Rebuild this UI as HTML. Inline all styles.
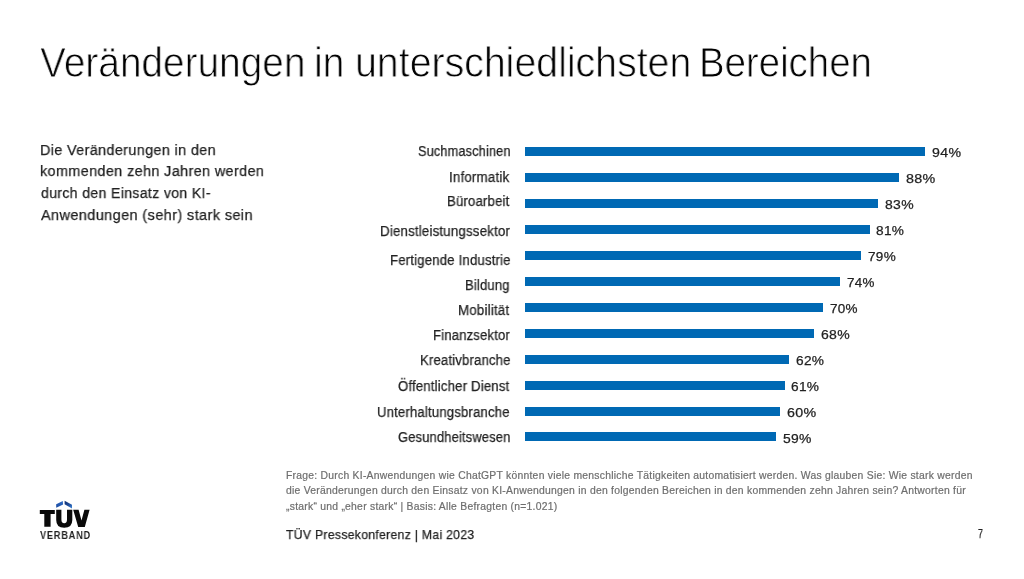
<!DOCTYPE html>
<html><head><meta charset="utf-8"><style>
html,body{margin:0;padding:0;background:#fff;}
body{width:1024px;height:579px;position:relative;overflow:hidden;font-family:"Liberation Sans",sans-serif;}
.t{position:absolute;white-space:pre;transform-origin:0 0;will-change:transform;}
.ti{-webkit-text-stroke:0.9px #fff;}
.b{-webkit-text-stroke:0.25px #222;}
.fb{-webkit-text-stroke:0.2px #6e6e6e;}
.bar{position:absolute;left:525.0px;height:9px;background:#0069b4;}
</style></head><body>
<div class="t ti" style="left:40.08px;top:41.50px;font-size:42px;line-height:42px;font-weight:400;letter-spacing:0px;color:#000;transform:scaleX(0.9240)">Veränderungen</div><div class="t ti" style="left:314.30px;top:41.50px;font-size:42px;line-height:42px;font-weight:400;letter-spacing:0px;color:#000;transform:scaleX(0.9333)">in</div><div class="t ti" style="left:354.59px;top:41.50px;font-size:42px;line-height:42px;font-weight:400;letter-spacing:0px;color:#000;transform:scaleX(0.9353)">unterschiedlichsten</div><div class="t ti" style="left:698.94px;top:41.50px;font-size:42px;line-height:42px;font-weight:400;letter-spacing:0px;color:#000;transform:scaleX(0.9143)">Bereichen</div><div class="t b" style="left:39.96px;top:141.50px;font-size:15.3px;line-height:15.3px;font-weight:400;letter-spacing:0.4px;color:#222;transform:scaleX(0.9392)">Die Veränderungen in den</div><div class="t b" style="left:39.56px;top:163.10px;font-size:15.3px;line-height:15.3px;font-weight:400;letter-spacing:0.4px;color:#222;transform:scaleX(0.9415)">kommenden zehn Jahren werden</div><div class="t b" style="left:40.50px;top:184.90px;font-size:15.3px;line-height:15.3px;font-weight:400;letter-spacing:0.4px;color:#222;transform:scaleX(0.9173)">durch den Einsatz von KI-</div><div class="t b" style="left:40.50px;top:206.60px;font-size:15.3px;line-height:15.3px;font-weight:400;letter-spacing:0.4px;color:#222;transform:scaleX(0.9489)">Anwendungen (sehr) stark sein</div><div class="t b" style="left:417.80px;top:145.20px;font-size:13.8px;line-height:13.8px;font-weight:400;letter-spacing:0.2px;color:#222;transform:scaleX(0.9190)">Suchmaschinen</div><div class="t b" style="left:448.94px;top:170.50px;font-size:13.8px;line-height:13.8px;font-weight:400;letter-spacing:0.2px;color:#222;transform:scaleX(0.9645)">Informatik</div><div class="t b" style="left:446.85px;top:195.00px;font-size:13.8px;line-height:13.8px;font-weight:400;letter-spacing:0.2px;color:#222;transform:scaleX(0.9523)">Büroarbeit</div><div class="t b" style="left:379.94px;top:224.60px;font-size:13.8px;line-height:13.8px;font-weight:400;letter-spacing:0.2px;color:#222;transform:scaleX(0.9612)">Dienstleistungssektor</div><div class="t b" style="left:389.65px;top:253.70px;font-size:13.8px;line-height:13.8px;font-weight:400;letter-spacing:0.2px;color:#222;transform:scaleX(0.9528)">Fertigende Industrie</div><div class="t b" style="left:465.46px;top:278.70px;font-size:13.8px;line-height:13.8px;font-weight:400;letter-spacing:0.2px;color:#222;transform:scaleX(0.9413)">Bildung</div><div class="t b" style="left:457.64px;top:304.30px;font-size:13.8px;line-height:13.8px;font-weight:400;letter-spacing:0.2px;color:#222;transform:scaleX(0.9642)">Mobilität</div><div class="t b" style="left:433.05px;top:329.30px;font-size:13.8px;line-height:13.8px;font-weight:400;letter-spacing:0.2px;color:#222;transform:scaleX(0.9462)">Finanzsektor</div><div class="t b" style="left:419.65px;top:354.30px;font-size:13.8px;line-height:13.8px;font-weight:400;letter-spacing:0.2px;color:#222;transform:scaleX(0.9479)">Kreativbranche</div><div class="t b" style="left:398.40px;top:380.10px;font-size:13.8px;line-height:13.8px;font-weight:400;letter-spacing:0.2px;color:#222;transform:scaleX(0.9513)">Öffentlicher Dienst</div><div class="t b" style="left:376.85px;top:405.90px;font-size:13.8px;line-height:13.8px;font-weight:400;letter-spacing:0.2px;color:#222;transform:scaleX(0.9489)">Unterhaltungsbranche</div><div class="t b" style="left:397.70px;top:430.90px;font-size:13.8px;line-height:13.8px;font-weight:400;letter-spacing:0.2px;color:#222;transform:scaleX(0.9333)">Gesundheitswesen</div><div class="t b" style="left:931.70px;top:146.10px;font-size:13.2px;line-height:13.2px;font-weight:400;letter-spacing:0.3px;color:#222;transform:scaleX(1.0741)">94%</div><div class="t b" style="left:906.00px;top:172.05px;font-size:13.2px;line-height:13.2px;font-weight:400;letter-spacing:0.3px;color:#222;transform:scaleX(1.0852)">88%</div><div class="t b" style="left:884.60px;top:198.00px;font-size:13.2px;line-height:13.2px;font-weight:400;letter-spacing:0.3px;color:#222;transform:scaleX(1.0593)">83%</div><div class="t b" style="left:876.30px;top:223.95px;font-size:13.2px;line-height:13.2px;font-weight:400;letter-spacing:0.3px;color:#222;transform:scaleX(1.0333)">81%</div><div class="t b" style="left:868.00px;top:249.90px;font-size:13.2px;line-height:13.2px;font-weight:400;letter-spacing:0.3px;color:#222;transform:scaleX(1.0259)">79%</div><div class="t b" style="left:846.50px;top:275.85px;font-size:13.2px;line-height:13.2px;font-weight:400;letter-spacing:0.3px;color:#222;transform:scaleX(1.0148)">74%</div><div class="t b" style="left:830.00px;top:301.80px;font-size:13.2px;line-height:13.2px;font-weight:400;letter-spacing:0.3px;color:#222;transform:scaleX(1.0222)">70%</div><div class="t b" style="left:821.10px;top:327.75px;font-size:13.2px;line-height:13.2px;font-weight:400;letter-spacing:0.3px;color:#222;transform:scaleX(1.0630)">68%</div><div class="t b" style="left:795.60px;top:353.70px;font-size:13.2px;line-height:13.2px;font-weight:400;letter-spacing:0.3px;color:#222;transform:scaleX(1.0370)">62%</div><div class="t b" style="left:791.00px;top:379.65px;font-size:13.2px;line-height:13.2px;font-weight:400;letter-spacing:0.3px;color:#222;transform:scaleX(1.0370)">61%</div><div class="t b" style="left:786.80px;top:405.60px;font-size:13.2px;line-height:13.2px;font-weight:400;letter-spacing:0.3px;color:#222;transform:scaleX(1.0815)">60%</div><div class="t b" style="left:782.80px;top:431.55px;font-size:13.2px;line-height:13.2px;font-weight:400;letter-spacing:0.3px;color:#222;transform:scaleX(1.0556)">59%</div><div class="t fb" style="left:285.90px;top:470.80px;font-size:10.3px;line-height:10.3px;font-weight:400;letter-spacing:0.25px;color:#6e6e6e;transform:scaleX(1.0060)">Frage: Durch KI-Anwendungen wie ChatGPT könnten viele menschliche Tätigkeiten automatisiert werden. Was glauben Sie: Wie stark werden</div><div class="t fb" style="left:286.00px;top:486.30px;font-size:10.3px;line-height:10.3px;font-weight:400;letter-spacing:0.25px;color:#6e6e6e;transform:scaleX(1.0068)">die Veränderungen durch den Einsatz von KI-Anwendungen in den folgenden Bereichen in den kommenden zehn Jahren sein? Antworten für</div><div class="t fb" style="left:286.00px;top:501.60px;font-size:10.3px;line-height:10.3px;font-weight:400;letter-spacing:0.25px;color:#6e6e6e;transform:scaleX(1.0059)">„stark“ und „eher stark“ | Basis: Alle Befragten (n=1.021)</div><div class="t b" style="left:286.10px;top:528.40px;font-size:13.1px;line-height:13.1px;font-weight:400;letter-spacing:0.3px;color:#222;transform:scaleX(0.9348)">TÜV Pressekonferenz | Mai 2023</div><div class="t b" style="left:977.90px;top:527.50px;font-size:12px;line-height:12px;font-weight:400;letter-spacing:0px;color:#222;transform:scaleX(0.7286)">7</div><div class="t " style="left:40.00px;top:530.80px;font-size:10.2px;line-height:10.2px;font-weight:700;letter-spacing:1.0px;color:#1e1e1e;transform:scaleX(0.8893)">VERBAND</div>
<div class="bar" style="top:147.00px;width:400.00px"></div><div class="bar" style="top:172.95px;width:374.47px"></div><div class="bar" style="top:198.90px;width:353.19px"></div><div class="bar" style="top:224.85px;width:344.68px"></div><div class="bar" style="top:250.80px;width:336.17px"></div><div class="bar" style="top:276.75px;width:314.89px"></div><div class="bar" style="top:302.70px;width:297.87px"></div><div class="bar" style="top:328.65px;width:289.36px"></div><div class="bar" style="top:354.60px;width:263.83px"></div><div class="bar" style="top:380.55px;width:259.57px"></div><div class="bar" style="top:406.50px;width:255.32px"></div><div class="bar" style="top:432.45px;width:251.06px"></div>
<svg style="position:absolute;left:30px;top:495px" width="70" height="40" viewBox="30 495 70 40">
<defs>
<linearGradient id="g1" x1="0" y1="1" x2="1" y2="0"><stop offset="0" stop-color="#1b4aa0"/><stop offset="1" stop-color="#2f6cc6"/></linearGradient>
<linearGradient id="g2" x1="0" y1="0" x2="1" y2="1"><stop offset="0" stop-color="#102c6c"/><stop offset="0.55" stop-color="#1f4d9c"/><stop offset="1" stop-color="#3f86d6"/></linearGradient>
</defs>
<path d="M39.8 509.9H54.8V514H50.6V526.8H44.3V514H39.8Z" fill="#0a0a0a"/>
<path d="M56.2 509.8H61.4V519.5Q61.4 523.3 64.2 523.3Q67 523.3 67 519.5V509.8H72.3V520Q72.3 527.8 64.2 527.8Q56.2 527.8 56.2 520Z" fill="#0a0a0a"/>
<path d="M73.2 509.8H78.6L81.5 520.5L84.4 509.8H89.6L84.8 527H78.2Z" fill="#0a0a0a"/>
<path d="M56.2 504.3L62.8 500.9L63.1 504.5L56.2 507.8Z" fill="url(#g1)"/>
<path d="M64.6 500.8L72 504.8L72 508.4L64.6 504.3Z" fill="url(#g2)"/>
</svg>

</body></html>
